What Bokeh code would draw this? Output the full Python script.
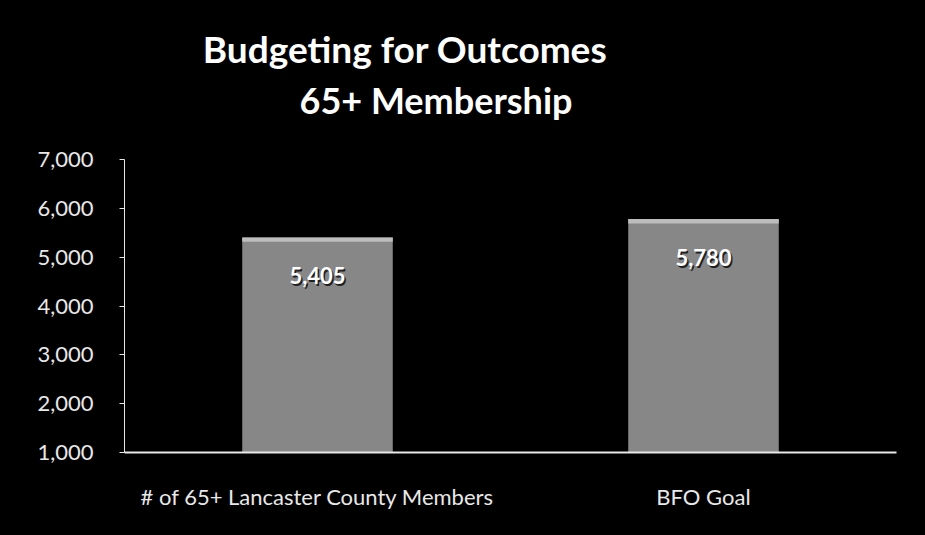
from bokeh.plotting import figure
from bokeh.models import Range1d, FixedTicker, NumeralTickFormatter, Label, ColumnDataSource
from bokeh.core.properties import value
from bokeh.embed import file_html
from bokeh.resources import INLINE

categories = ["# of 65+ Lancaster County Members", "BFO Goal"]
values = [5405, 5780]
value_labels = ["5,405", "5,780"]
y_ticks = [1000, 2000, 3000, 4000, 5000, 6000, 7000]
title_text = "Budgeting for Outcomes"
subtitle_text = "65+ Membership"

FONT = "Lato"
BG = "#000000"

p = figure(width=925, height=535, x_range=categories,
           y_range=Range1d(1000, 10256),
           output_backend="svg", toolbar_location=None,
           background_fill_color=None, border_fill_color=BG,
           min_border_left=124, min_border_right=29,
           min_border_top=0, min_border_bottom=83, outline_line_color=None)
p.styles = {"background-color": BG}
p.x_range.range_padding = 0

src = ColumnDataSource(dict(cat=categories, val=values, lab=value_labels,
                            band=[v - 90 for v in values]))

p.vbar(x="cat", top="val", bottom=1000, width=0.39, source=src,
       fill_color="#878787", line_color=None)
p.vbar(x="cat", top="val", bottom="band", width=0.39, source=src,
       fill_color="#bdbdbd", line_color=None)

# value labels with a dark shadow
p.text(x="cat", y="val", text="lab", source=src, x_offset=1.5, y_offset=40,
       text_align="center", text_baseline="middle", text_color="#202020",
       text_font=value(FONT), text_font_style="bold", text_font_size="22px")
p.text(x="cat", y="val", text="lab", source=src, y_offset=38,
       text_align="center", text_baseline="middle", text_color="#ffffff",
       text_font=value(FONT), text_font_style="bold", text_font_size="22px")

p.add_layout(Label(x=0.727, y=9274, text=title_text, text_align="center",
                   text_baseline="middle", text_color="#ffffff",
                   text_font=FONT, text_font_style="bold", text_font_size="37px"))
p.add_layout(Label(x=0.807, y=8209, text=subtitle_text, text_align="center",
                   text_baseline="middle", text_color="#ffffff",
                   text_font=FONT, text_font_style="bold", text_font_size="36px"))

p.xgrid.grid_line_color = None
p.ygrid.grid_line_color = None

ya = p.yaxis[0]
ya.bounds = (1000, 7000)
ya.ticker = FixedTicker(ticks=y_ticks)
ya.formatter = NumeralTickFormatter(format="0,0")
ya.axis_line_color = "#e8e8e8"
ya.major_tick_line_color = "#e8e8e8"
ya.major_tick_out = 5
ya.major_tick_in = 0
ya.minor_tick_line_color = None
ya.major_label_standoff = 26
ya.major_label_text_color = "#e8e8e8"
ya.major_label_text_font = FONT
ya.major_label_text_font_size = "22px"

xa = p.xaxis[0]
xa.axis_line_color = "#e8e8e8"
xa.axis_line_width = 2
xa.major_tick_line_color = None
xa.minor_tick_line_color = None
xa.major_label_standoff = 24
xa.major_label_text_color = "#e8e8e8"
xa.major_label_text_font = FONT
xa.major_label_text_font_size = "22px"

open("out.html", "w").write(file_html(p, INLINE))
